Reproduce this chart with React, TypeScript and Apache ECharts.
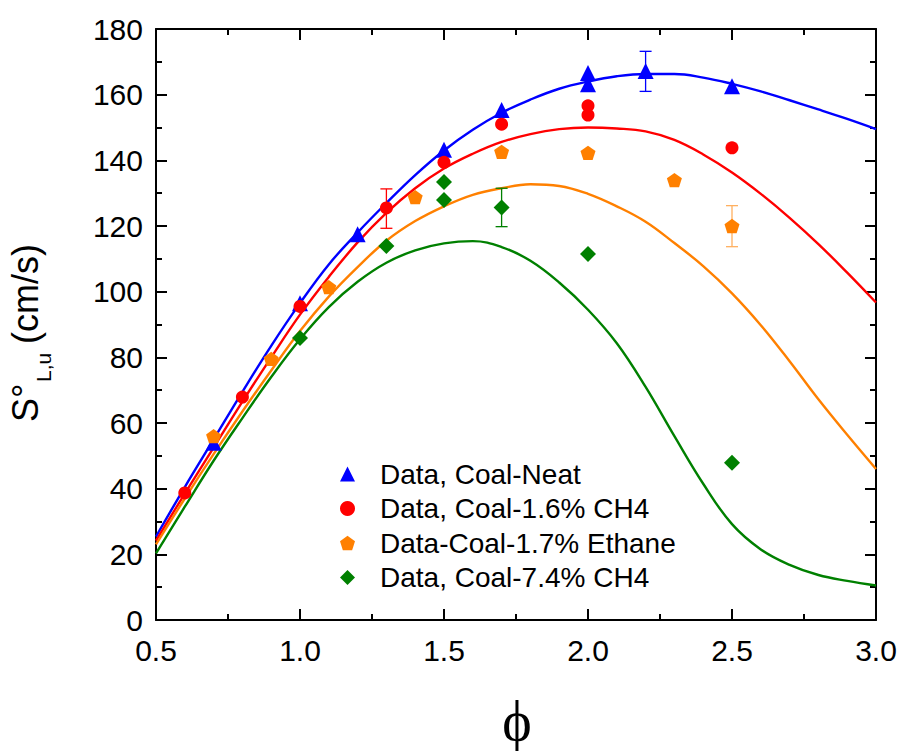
import React, { useEffect, useRef } from 'react';
import * as echarts from 'echarts';

// ---------- data ----------
const seriesNames = [
  'Data, Coal-Neat',
  'Data, Coal-1.6% CH4',
  'Data-Coal-1.7% Ethane',
  'Data, Coal-7.4% CH4',
];
const seriesColors = ['#0000FF', '#FF0000', '#FF8000', '#008000'];
const errorColors = ['#0000FF', '#FF0000', '#FFB060', '#008000'];

const dataNeat = [
  [0.7, 54], [1.0, 96.5], [1.2, 117.5], [1.5, 143.2], [1.7, 155.3],
  [2.0, 166.6], [2.0, 163.2], [2.2, 167.2], [2.5, 162.6],
];
const dataCh4_16 = [
  [0.6, 38.7], [0.8, 67.9], [1.0, 95.5], [1.3, 125.5], [1.5, 139.4],
  [1.7, 151], [2.0, 156.6], [2.0, 153.8], [2.5, 143.8],
];
const dataEthane = [
  [0.7, 56], [0.9, 79.5], [1.1, 101.4], [1.4, 128.8], [1.7, 142.6],
  [2.0, 142.3], [2.3, 134], [2.5, 120],
];
const dataCh4_74 = [
  [1.0, 85.9], [1.3, 113.9], [1.5, 133.4], [1.5, 127.9], [1.7, 125.6],
  [2.0, 111.5], [2.5, 47.9],
];

// error bars: [phi, low, high]
const errNeat = [[2.2, 161, 173.2]];
const errCh4_16 = [[1.3, 119.3, 131.3]];
const errEthane = [[2.5, 113.7, 126.2]];
const errCh4_74 = [[1.7, 119.8, 131.5]];

// model curves
const phiFit = [0.5, 0.6, 0.7, 0.8, 0.9, 1.0, 1.1, 1.2, 1.3, 1.4, 1.5, 1.6, 1.7, 1.8, 1.9,
  2.0, 2.1, 2.2, 2.3, 2.4, 2.5, 2.6, 2.7, 2.8, 2.9, 3.0];
const fitNeat = [25.4, 40.5, 55, 69.5, 83.5, 96.5, 108.3, 118, 127, 135.5, 143, 149.3, 154.5,
  158.5, 161.8, 164, 165.6, 166.3, 166.3, 165.2, 163.3, 161, 158.3, 155.5, 152.6, 149.5];
const fitCh4_16 = [24.2, 38.5, 52.5, 66.5, 80, 93, 104.5, 115, 124, 131.5, 137.5, 142, 145.6,
  148, 149.5, 150, 149.7, 148.8, 146.2, 141.8, 136.3, 129.8, 122.5, 114.5, 105.8, 96.7];
const fitEthane = [23, 37, 50.5, 63.5, 76, 88, 98.5, 107.5, 115.5, 121.5, 126, 129.5, 131.5,
  132.7, 132.2, 129.8, 126, 121.3, 114.8, 107.8, 99.5, 89.8, 78.8, 67.2, 56.4, 46];
const fitCh4_74 = [20.3, 34.5, 48.5, 61.5, 74, 85.5, 95.3, 103, 108.8, 112.6, 114.7, 115.4, 113.6,
  109.4, 102.8, 94.5, 84.3, 71, 56, 41.5, 29.2, 21.5, 16.8, 13.7, 11.9, 10.5];

const xTicks = { min: 0.5, max: 3.0, interval: 0.5 };
const yTicks = { min: 0, max: 180, interval: 20 };

const FONT = 'Liberation Sans';
const pentagon = 'path://M0,-1 L0.951,-0.309 L0.588,0.809 L-0.588,0.809 L-0.951,-0.309 Z';
const symbols = ['triangle', 'circle', pentagon, 'diamond'];
const symbolSizes = [16, 13, 15, 16];

const scatterData = [dataNeat, dataCh4_16, dataEthane, dataCh4_74];
const errData = [errNeat, errCh4_16, errEthane, errCh4_74];
const fitData = [fitNeat, fitCh4_16, fitEthane, fitCh4_74];

function makeAxis(kind: 'x' | 'y', position: string, showLabel: boolean, ticks: any) {
  return {
    type: 'value',
    position,
    min: ticks.min,
    max: ticks.max,
    interval: ticks.interval,
    axisLine: { show: true, onZero: false, lineStyle: { color: '#000', width: 2 } },
    axisTick: { show: true, inside: true, length: 11, lineStyle: { color: '#000', width: 2 } },
    minorTick: { show: true, splitNumber: 2, length: 6, lineStyle: { color: '#000', width: 2 } },
    splitLine: { show: false },
    minorSplitLine: { show: false },
    axisLabel: {
      show: showLabel,
      fontSize: 30,
      lineHeight: 26,
      fontFamily: FONT,
      color: '#000',
      margin: kind === 'x' ? 17 : 13,
      formatter: (v: number) => (kind === 'x' ? v.toFixed(1) : String(v)),
    },
  };
}

export default function App() {
  const ref = useRef<HTMLDivElement>(null);
  useEffect(() => {
    if (!ref.current) return;
    const chart = echarts.init(ref.current, null, { renderer: 'svg' });

    const series: any[] = [];
    fitData.forEach((f, i) => {
      series.push({
        type: 'line',
        name: 'fit' + i,
        data: phiFit.map((x, k) => [x, f[k]]),
        smooth: 0.4,
        showSymbol: false,
        symbol: 'none',
        lineStyle: { color: seriesColors[i], width: 2.4 },
        z: 2,
        silent: true,
      });
    });
    errData.forEach((e, i) => {
      series.push({
        type: 'custom',
        name: 'err' + i,
        data: e,
        encode: { x: 0, y: [1, 2] },
        z: 3,
        silent: true,
        renderItem: (params: any, api: any) => {
          const x = api.value(0);
          const lo = api.coord([x, api.value(1)]);
          const hi = api.coord([x, api.value(2)]);
          const hw = 6;
          const st = { stroke: errorColors[i], lineWidth: 1.3 };
          return {
            type: 'group',
            children: [
              { type: 'line', shape: { x1: lo[0], y1: lo[1], x2: hi[0], y2: hi[1] }, style: st },
              { type: 'line', shape: { x1: lo[0] - hw, y1: lo[1], x2: lo[0] + hw, y2: lo[1] }, style: st },
              { type: 'line', shape: { x1: hi[0] - hw, y1: hi[1], x2: hi[0] + hw, y2: hi[1] }, style: st },
            ],
          };
        },
      });
    });
    scatterData.forEach((d, i) => {
      series.push({
        type: 'scatter',
        name: seriesNames[i],
        data: d,
        symbol: symbols[i],
        symbolSize: symbolSizes[i],
        symbolKeepAspect: true,
        itemStyle: { color: seriesColors[i], opacity: 1 },
        z: 4 + i,
      });
    });

    chart.setOption({
      animation: false,
      backgroundColor: '#fff',
      grid: { left: 156, top: 29, width: 720, height: 591, containLabel: false },
      xAxis: [makeAxis('x', 'bottom', true, xTicks), makeAxis('x', 'top', false, xTicks)],
      yAxis: [makeAxis('y', 'left', true, yTicks), makeAxis('y', 'right', false, yTicks)],
      legend: {
        orient: 'vertical',
        left: 335,
        top: 455,
        itemWidth: 15,
        itemHeight: 15,
        itemGap: 6.5,
        data: seriesNames,
        textStyle: { fontSize: 28, lineHeight: 28, fontFamily: FONT, color: '#000', padding: [0, 0, 0, 20] },
        selectedMode: false,
      },
      graphic: [
        {
          type: 'text',
          x: 517,
          y: 721,
          style: {
            text: 'ϕ',
            fontSize: 56,
            fontFamily: 'Liberation Serif',
            fill: '#000',
            align: 'center',
            verticalAlign: 'middle',
          },
        },
        {
          type: 'group',
          x: 25,
          y: 422,
          rotation: Math.PI / 2,
          children: [
            {
              type: 'text',
              x: 0,
              y: 0,
              style: { text: 'S°', fontSize: 36, fontFamily: FONT, fill: '#000', align: 'left', verticalAlign: 'middle' },
            },
            {
              type: 'text',
              x: 40,
              y: 18,
              style: { text: 'L,u', fontSize: 21, fontFamily: FONT, fill: '#000', align: 'left', verticalAlign: 'middle' },
            },
            {
              type: 'text',
              x: 78,
              y: 0,
              style: { text: '(cm/s)', fontSize: 36, fontFamily: FONT, fill: '#000', align: 'left', verticalAlign: 'middle' },
            },
          ],
        },
      ],
      series,
    });
    return () => chart.dispose();
  }, []);
  return (
    <div
      ref={ref}
      style={{ position: 'absolute', left: 0, top: 0, width: 902, height: 751, background: '#fff' }}
    />
  );
}
